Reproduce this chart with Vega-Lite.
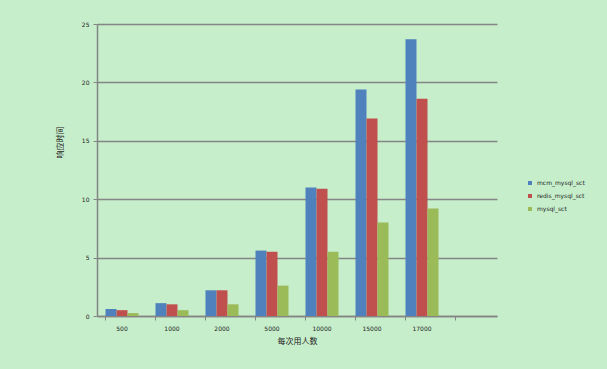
{
  "$schema": "https://vega.github.io/schema/vega-lite/v6.json",
  "autosize": "none",
  "width": 400,
  "height": 292,
  "padding": {"left": 97, "top": 24, "right": 110, "bottom": 53},
  "background": "#C6EECB",
  "config": {
    "view": {"stroke": null},
    "font": "Noto Sans CJK SC",
    "axis": {"labelColor": "#222222", "titleColor": "#222222", "labelFont": "DejaVu Sans", "labelFontSize": 6, "titleFontSize": 8, "titleFontWeight": "normal"}
  },
  "data": {
    "values": [
      {"users": "500", "series": "mcm_mysql_sct", "value": 0.6},
      {"users": "500", "series": "redis_mysql_sct", "value": 0.5},
      {"users": "500", "series": "mysql_sct", "value": 0.25},
      {"users": "1000", "series": "mcm_mysql_sct", "value": 1.1},
      {"users": "1000", "series": "redis_mysql_sct", "value": 1.0},
      {"users": "1000", "series": "mysql_sct", "value": 0.5},
      {"users": "2000", "series": "mcm_mysql_sct", "value": 2.2},
      {"users": "2000", "series": "redis_mysql_sct", "value": 2.2},
      {"users": "2000", "series": "mysql_sct", "value": 1.0},
      {"users": "5000", "series": "mcm_mysql_sct", "value": 5.6},
      {"users": "5000", "series": "redis_mysql_sct", "value": 5.5},
      {"users": "5000", "series": "mysql_sct", "value": 2.6},
      {"users": "10000", "series": "mcm_mysql_sct", "value": 11.0},
      {"users": "10000", "series": "redis_mysql_sct", "value": 10.9},
      {"users": "10000", "series": "mysql_sct", "value": 5.5},
      {"users": "15000", "series": "mcm_mysql_sct", "value": 19.4},
      {"users": "15000", "series": "redis_mysql_sct", "value": 16.9},
      {"users": "15000", "series": "mysql_sct", "value": 8.0},
      {"users": "17000", "series": "mcm_mysql_sct", "value": 23.7},
      {"users": "17000", "series": "redis_mysql_sct", "value": 18.6},
      {"users": "17000", "series": "mysql_sct", "value": 9.2}
    ]
  },
  "mark": {"type": "bar"},
  "encoding": {
    "x": {
      "field": "users", "type": "nominal",
      "scale": {"domain": ["500", "1000", "2000", "5000", "10000", "15000", "17000", "blank"], "paddingInner": 0.34, "paddingOuter": 0.17},
      "axis": {
        "title": "每次用人数", "labelAngle": 0, "labelExpr": "datum.value == 'blank' ? '' : datum.value",
        "bandPosition": 0, "domainColor": "#858585", "domainWidth": 1.5, "tickColor": "#858585", "tickSize": 4,
        "labelPadding": 5, "titlePadding": 6, "grid": false
      }
    },
    "xOffset": {"field": "series", "type": "nominal", "sort": ["mcm_mysql_sct", "redis_mysql_sct", "mysql_sct"]},
    "y": {
      "field": "value", "type": "quantitative",
      "scale": {"domain": [0, 25], "nice": false},
      "axis": {
        "title": "响应时间", "values": [0, 5, 10, 15, 20, 25], "grid": true, "gridColor": "#858585", "gridWidth": 1.5,
        "domainColor": "#858585", "domainWidth": 1.5, "tickColor": "#858585", "tickSize": 4, "labelPadding": 4,
        "titleX": -33, "titleY": 118
      }
    },
    "color": {
      "field": "series", "type": "nominal",
      "sort": ["mcm_mysql_sct", "redis_mysql_sct", "mysql_sct"],
      "scale": {"range": ["#4F81BD", "#C0504D", "#9BBB59"]},
      "legend": {"title": null, "orient": "none", "legendX": 430, "legendY": 156, "symbolType": "square", "symbolSize": 16, "labelFontSize": 6, "labelFont": "DejaVu Sans", "labelColor": "#222222", "rowPadding": 7}
    }
  }
}
